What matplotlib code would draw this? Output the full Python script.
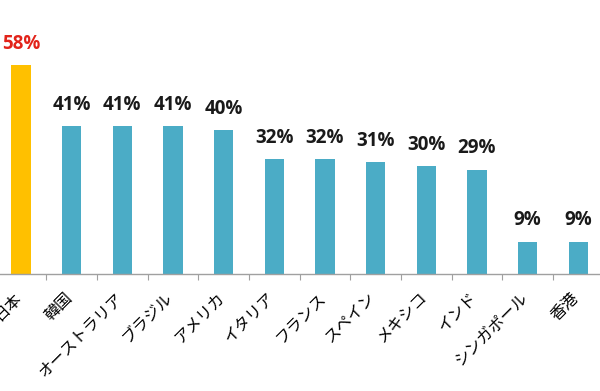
import matplotlib
matplotlib.use('Agg')
import matplotlib.pyplot as plt
import matplotlib.transforms as mtransforms
import numpy as np

plt.rcParams['font.family'] = ['Noto Sans CJK JP', 'DejaVu Sans']

countries = ['日本', '韓国', 'オーストラリア', 'ブラジル', 'アメリカ', 'イタリア',
             'フランス', 'スペイン', 'メキシコ', 'インド', 'シンガポール', '香港']
values = [58, 41, 41, 41, 40, 32, 32, 31, 30, 29, 9, 9]

blue = '#4BACC6'
yellow = '#FFC000'

fig = plt.figure(figsize=(6.0, 3.91), dpi=100)
# axes runs a little past both image edges, as in the cropped original
ax = fig.add_axes([-4.4 / 600, 117 / 391, 608 / 600, 252 / 391])

x = np.arange(len(countries))
colors = [yellow] + [blue] * (len(countries) - 1)
ax.bar(x, values, width=0.38, color=colors)

for i, v in enumerate(values):
    c = '#E2231A' if i == 0 else '#1A1A1A'
    ax.annotate('%d%%' % v, (i, v), xytext=(0, 8), textcoords='offset points',
                ha='center', va='bottom', fontsize=13.5, fontweight='bold',
                color=c, family=['Open Sans', 'DejaVu Sans'])

ax.set_xlim(-0.5, len(countries) - 0.5)
ax.set_ylim(0, 70)

ax.set_xticks(x)
ax.set_xticklabels(countries, rotation=45, ha='right', va='top',
                   rotation_mode='anchor', fontsize=11.5)
ax.tick_params(axis='x', which='major', length=0, pad=11)
ax.set_xticks(x[:-1] + 0.5, minor=True)
ax.tick_params(axis='x', which='minor', length=4, width=0.8, color='#A0A0A0',
               direction='out')

# nudge the slanted labels left so their right end sits under the bar
shift = mtransforms.ScaledTranslation(-8 / 100, 0, fig.dpi_scale_trans)
for lab in ax.get_xticklabels():
    lab.set_transform(lab.get_transform() + shift)

ax.set_yticks([])
for s in ['top', 'right', 'left']:
    ax.spines[s].set_visible(False)
ax.spines['bottom'].set_color('#A0A0A0')
ax.spines['bottom'].set_linewidth(1.0)

fig.savefig('out.png', dpi=100)
